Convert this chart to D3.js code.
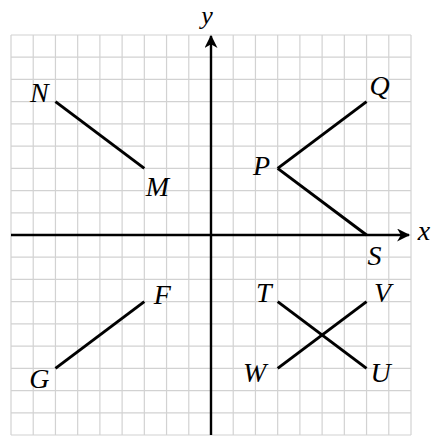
<!DOCTYPE html>
<html>
<head>
<meta charset="utf-8">
<script src="https://cdn.jsdelivr.net/npm/d3@7"></script>
<style>
  html, body { margin: 0; padding: 0; background: #fff; }
</style>
</head>
<body>
<svg id="chart" width="432" height="437"></svg>
<script>
// grid extent in units
const gridMin = -9
const gridMax = 9

// segments: [from label, to label]
const segments = [
  ["N", "M"],
  ["P", "Q"],
  ["P", "S"],
  ["T", "U"],
  ["W", "V"],
  ["G", "F"],
]

// labelled points
const pointNames = ["N", "M", "P", "Q", "S", "T", "U", "V", "W", "F", "G"]
const pointX = [-7, -3, 3, 7, 7, 3, 7, 7, 3, -3, -7]
const pointY = [6, 3, 3, 6, 0, -3, -6, -3, -6, -3, -6]

const labelFont = "'Liberation Serif', 'Times New Roman', Times, serif"
const labelSize = 28

const svg = d3.select("#chart")

const xScale = d3.scaleLinear().domain([gridMin, gridMax]).range([11, 411])
const yScale = d3.scaleLinear().domain([gridMin, gridMax]).range([435, 35])

const ticks = d3.range(gridMin, gridMax + 1)

// grid
const grid = svg.append("g").attr("stroke", "#d2d2d2").attr("stroke-width", 1.2)
grid.selectAll(".vline")
  .data(ticks)
  .join("line")
    .attr("class", "vline")
    .attr("x1", d => xScale(d))
    .attr("x2", d => xScale(d))
    .attr("y1", yScale(gridMax))
    .attr("y2", yScale(gridMin))
grid.selectAll(".hline")
  .data(ticks)
  .join("line")
    .attr("class", "hline")
    .attr("y1", d => yScale(d))
    .attr("y2", d => yScale(d))
    .attr("x1", xScale(gridMin))
    .attr("x2", xScale(gridMax))

// arrowhead
svg.append("defs").append("marker")
    .attr("id", "arrow")
    .attr("viewBox", "0 0 12 12")
    .attr("refX", 11)
    .attr("refY", 6)
    .attr("markerWidth", 13)
    .attr("markerHeight", 13)
    .attr("markerUnits", "userSpaceOnUse")
    .attr("orient", "auto")
  .append("path")
    .attr("d", "M0,0 L12,6 L0,12 L3.5,6 Z")
    .attr("fill", "#000")

// axes
svg.append("line")
    .attr("x1", xScale(gridMin))
    .attr("x2", xScale(gridMax) - 2)
    .attr("y1", yScale(0))
    .attr("y2", yScale(0))
    .attr("stroke", "#000")
    .attr("stroke-width", 2.4)
    .attr("marker-end", "url(#arrow)")
svg.append("line")
    .attr("x1", xScale(0))
    .attr("x2", xScale(0))
    .attr("y1", yScale(gridMin))
    .attr("y2", yScale(gridMax) + 1)
    .attr("stroke", "#000")
    .attr("stroke-width", 2.4)
    .attr("marker-end", "url(#arrow)")

function label(sel, size) {
  sel.attr("text-anchor", "middle")
    .attr("font-family", labelFont)
    .attr("font-style", "italic")
    .attr("font-size", size || labelSize)
}

svg.append("text")
    .attr("x", 424).attr("y", 240)
    .call(label)
    .text("x")
svg.append("text")
    .attr("x", 207).attr("y", 24)
    .call(label, 26)
    .text("y")

const pts = {}
pointNames.forEach((n, i) => { pts[n] = [pointX[i], pointY[i]] })

// segments
svg.append("g").selectAll("line")
  .data(segments)
  .join("line")
    .attr("x1", d => xScale(pts[d[0]][0]))
    .attr("y1", d => yScale(pts[d[0]][1]))
    .attr("x2", d => xScale(pts[d[1]][0]))
    .attr("y2", d => yScale(pts[d[1]][1]))
    .attr("stroke", "#000")
    .attr("stroke-width", 3)

// label offsets (px) from the point
const offsets = {
  N: [-16, 0], M: [13, 28], P: [-16, 7], Q: [13, -7], S: [8, 30],
  T: [-14, 0], V: [16, 0], W: [-23, 14], U: [14, 14], F: [18, 2], G: [-16, 20],
}

svg.append("g").selectAll("text")
  .data(pointNames)
  .join("text")
    .attr("x", d => xScale(pts[d][0]) + offsets[d][0])
    .attr("y", d => yScale(pts[d][1]) + offsets[d][1])
    .call(label)
    .text(d => d)
</script>
</body>
</html>
